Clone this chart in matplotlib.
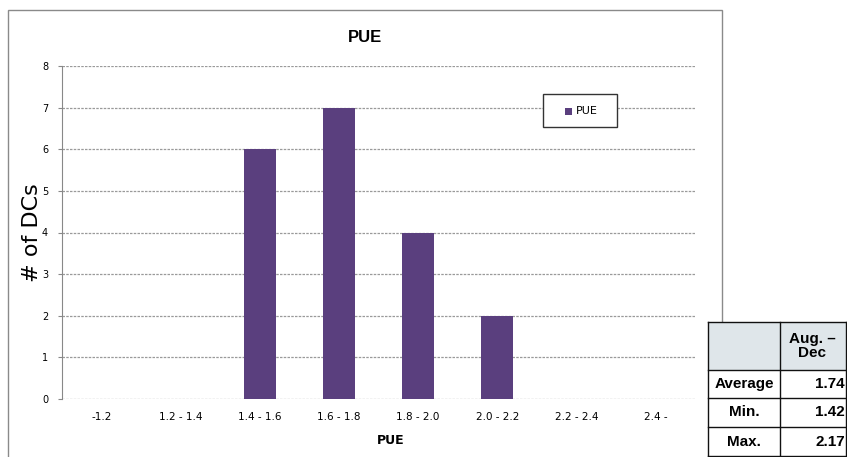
import matplotlib.pyplot as plt
from matplotlib.patches import Rectangle
from matplotlib.lines import Line2D

# data
categories = ['-1.2', '1.2 - 1.4', '1.4 - 1.6', '1.6 - 1.8', '1.8 - 2.0', '2.0 - 2.2', '2.2 - 2.4', '2.4 -']
counts = [0, 0, 6, 7, 4, 2, 0, 0]
yticks = [0, 1, 2, 3, 4, 5, 6, 7, 8]

stats_header = 'Aug. –\nDec'
stats_labels = ['Average', 'Min.', 'Max.']
stats_values = ['1.74', '1.42', '2.17']

bar_color = '#5a3f7e'
W, H = 847, 457

fig = plt.figure(figsize=(8.47, 4.57), dpi=100)

def fx(px):
    return px / W

def fy(py):
    return 1 - py / H

# outer chart frame
frame = Rectangle((fx(8), fy(470)), fx(722) - fx(8), fy(10) - fy(470),
                  transform=fig.transFigure, fill=False, ec='#8a8a8a', lw=1.0)
fig.patches.append(frame)

ax = fig.add_axes([fx(62), fy(399), fx(695) - fx(62), fy(66) - fy(399)])
x = list(range(len(categories)))
ax.bar(x, counts, width=0.41, color=bar_color, label='PUE', zorder=3)
ax.set_xlim(-0.5, len(categories) - 0.5)
ax.set_ylim(0, 8)
ax.set_yticks(yticks)
ax.set_yticklabels([str(v) for v in yticks], fontsize=7)
ax.set_xticks(x)
ax.set_xticklabels(categories, fontsize=7.5)
ax.tick_params(axis='x', length=0, pad=9)
ax.tick_params(axis='y', length=3, color='#888888', pad=7)
ax.yaxis.grid(True, color='#9a9a9a', lw=0.9, ls=(0, (2, 1)))
ax.set_axisbelow(True)
for s in ['top', 'right', 'bottom']:
    ax.spines[s].set_visible(False)
ax.spines['left'].set_color('#888888')

ax.set_xlabel('PUE', fontsize=9, fontweight='bold')
ax.xaxis.set_label_coords(0.52, -0.105)
ax.set_ylabel('# of DCs', fontsize=16)
ax.yaxis.set_label_coords(-0.032, 0.5)

fig.text(fx(365), fy(37), 'PUE', fontsize=12, fontweight='bold', ha='center', va='center',
         family='Liberation Sans')

# legend box (drawn by hand to match its size)
lx0, lx1, ly0, ly1 = 543, 617, 94, 127
fig.patches.append(Rectangle((fx(lx0), fy(ly1)), fx(lx1) - fx(lx0), fy(ly0) - fy(ly1),
                             transform=fig.transFigure, fc='white', ec='#333333', lw=1.0, zorder=5))
fig.patches.append(Rectangle((fx(565), fy(115)), fx(572) - fx(565), fy(108) - fy(115),
                             transform=fig.transFigure, fc=bar_color, ec='none', zorder=6))
fig.text(fx(576), fy(111.5), 'PUE', fontsize=8, va='center', ha='left', zorder=6)

# stats table
tx0, tx1, tx2 = 708, 780, 847
rows = [322, 370, 398, 427, 456]
fig.patches.append(Rectangle((fx(tx0), fy(rows[-1])), fx(tx2) - fx(tx0), fy(rows[0]) - fy(rows[-1]),
                             transform=fig.transFigure, fc='white', ec='none', zorder=3))
fig.patches.append(Rectangle((fx(tx0), fy(rows[1])), fx(tx2) - fx(tx0), fy(rows[0]) - fy(rows[1]),
                             transform=fig.transFigure, fc='#dfe6ea', ec='none', zorder=4))
lk = dict(transform=fig.transFigure, color='#111111', lw=1.0, zorder=5)
for r in rows:
    fig.lines.append(Line2D([fx(tx0), fx(tx2)], [fy(r), fy(r)], **lk))
for c in [tx0, tx1, tx2 - 1]:
    fig.lines.append(Line2D([fx(c), fx(c)], [fy(rows[0]), fy(rows[-1])], **lk))

tfont = dict(family='Liberation Sans', fontweight='bold', fontsize=11,
             va='center', transform=fig.transFigure, zorder=6)
fig.text(fx(812), fy(346), stats_header, ha='center', linespacing=0.95, **tfont)
for i, (lab, val) in enumerate(zip(stats_labels, stats_values)):
    yc = (rows[i + 1] + rows[i + 2]) / 2
    fig.text(fx(744), fy(yc), lab, ha='center', **tfont)
    fig.text(fx(845), fy(yc), val, ha='right', **tfont)

fig.savefig('out.png', dpi=100)
